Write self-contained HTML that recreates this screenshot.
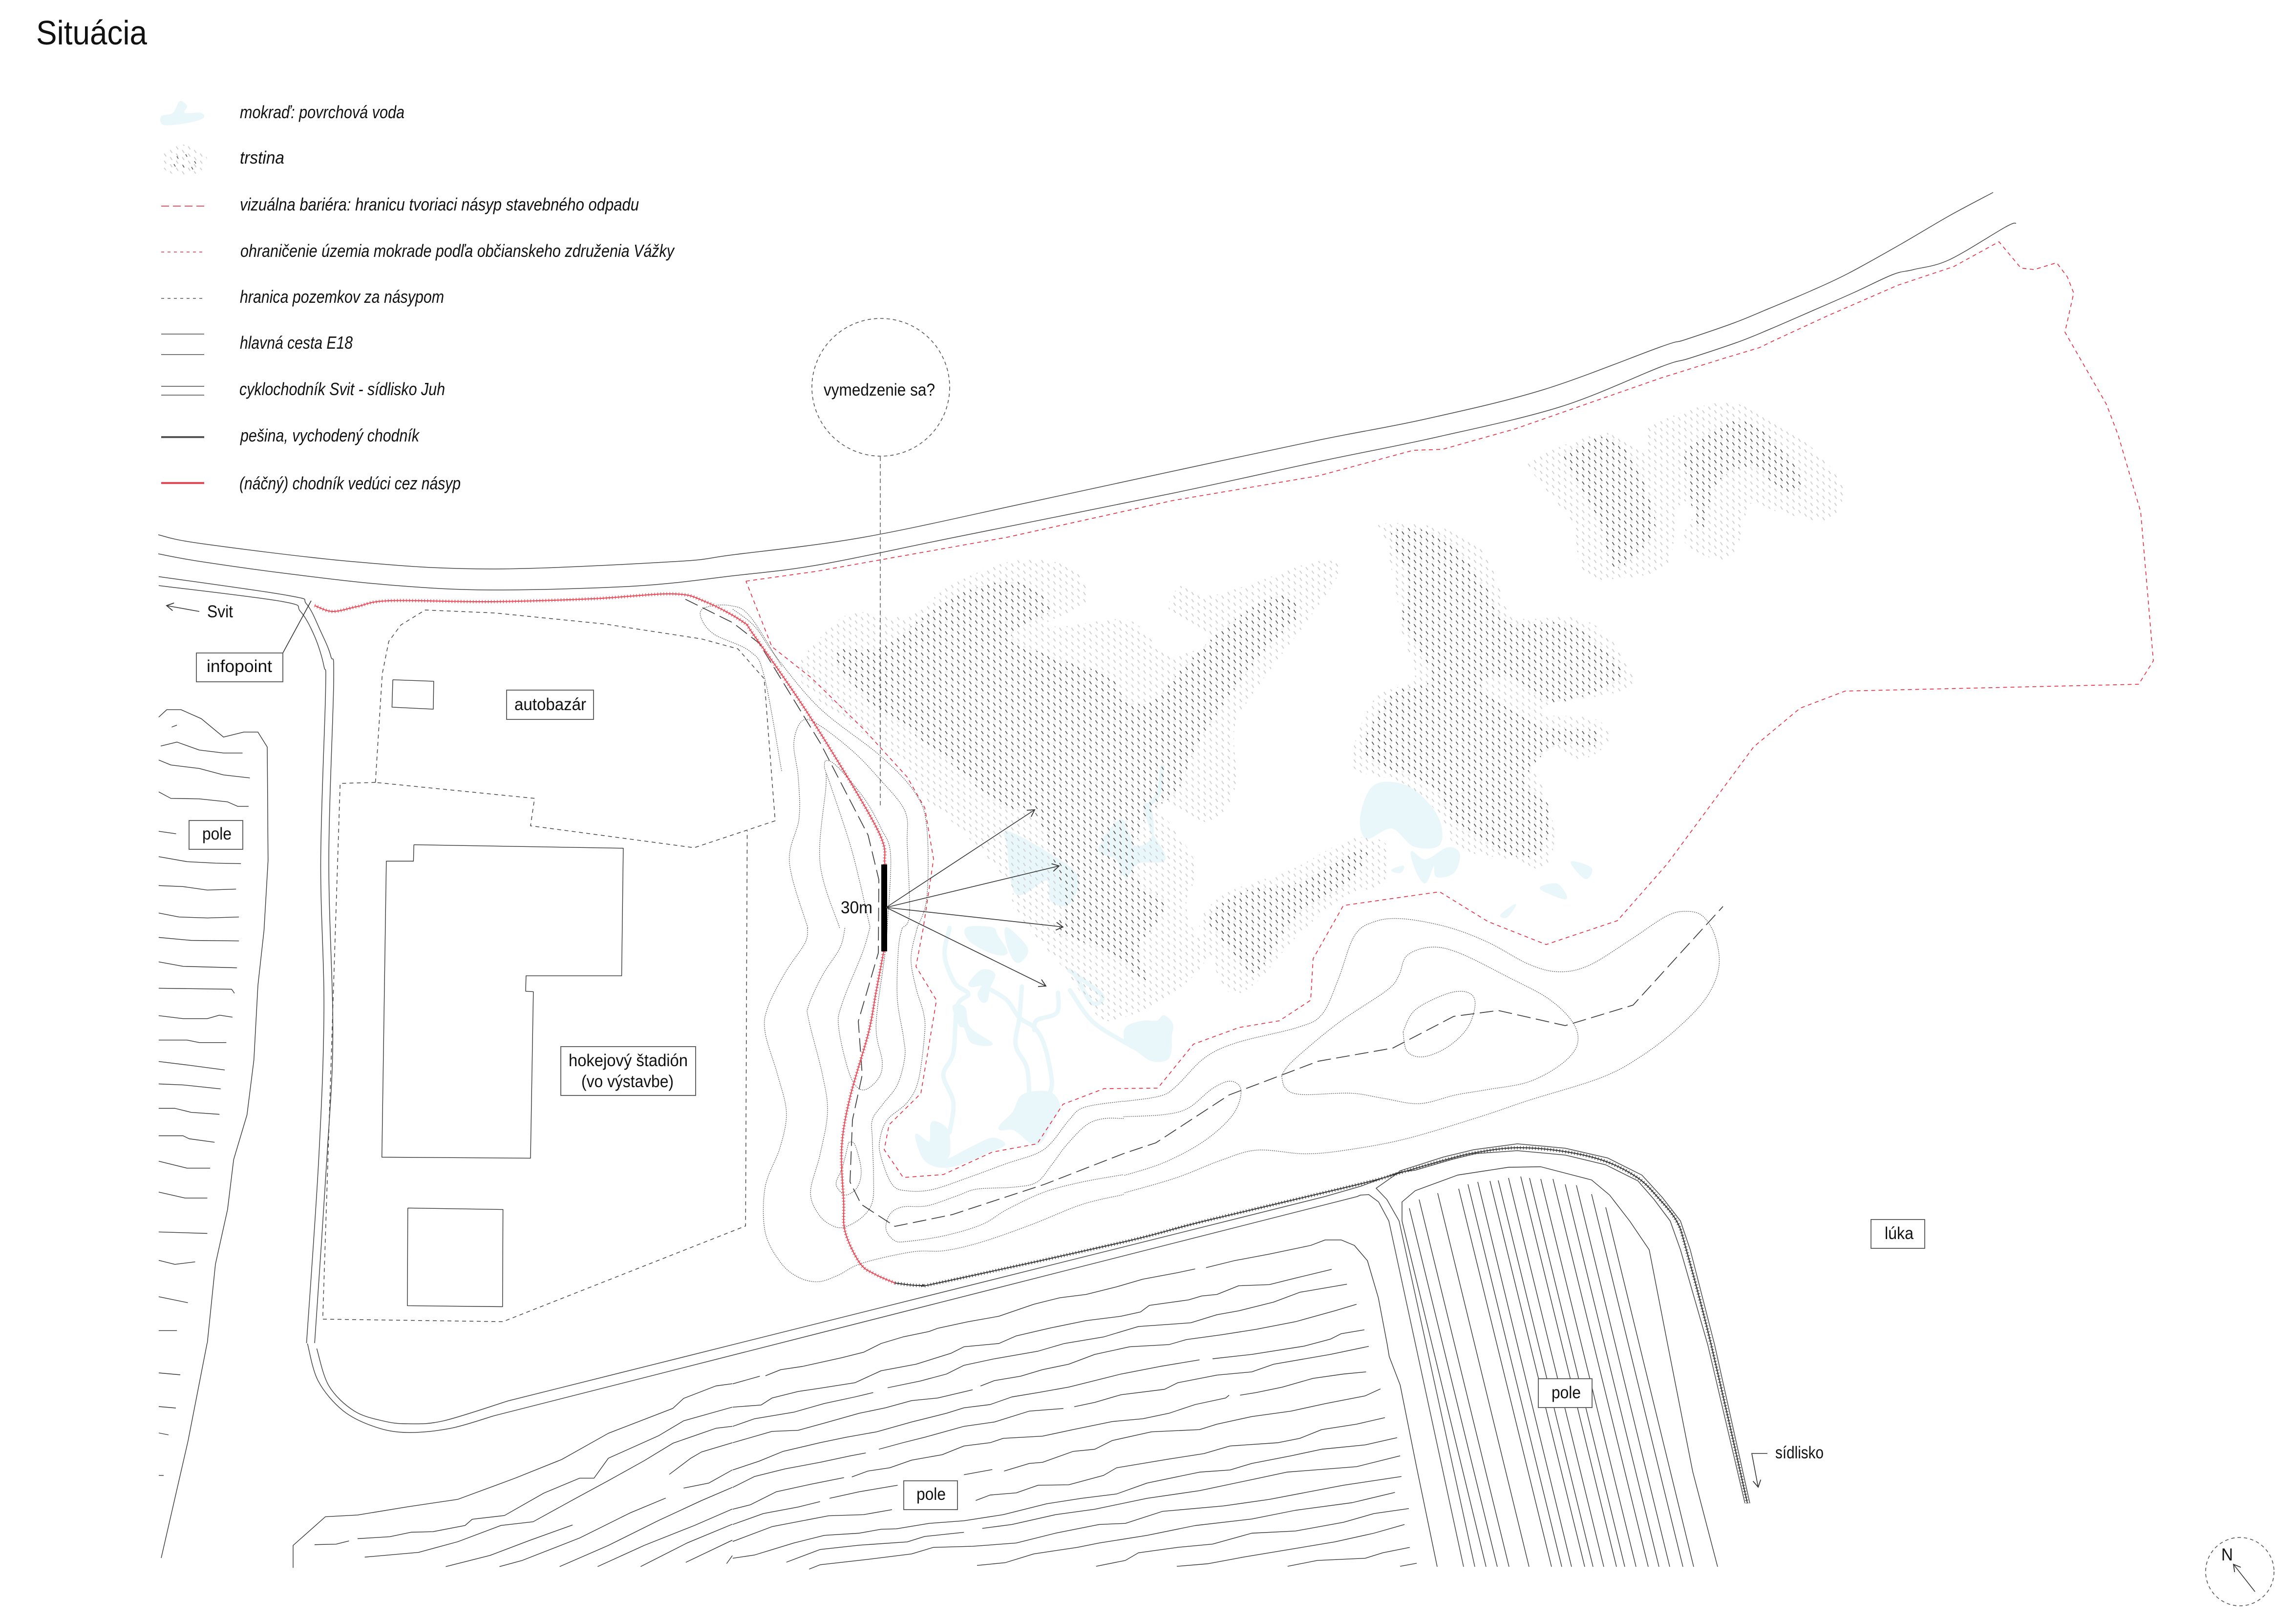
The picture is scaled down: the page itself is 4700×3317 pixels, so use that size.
<!DOCTYPE html>
<html><head><meta charset="utf-8"><title>Situácia</title>
<style>
html,body{margin:0;padding:0;background:#fff}
svg{display:block}
text{font-family:"Liberation Sans",sans-serif;fill:#111}
.l{font-style:italic;font-size:36px}
.b{font-size:35px}
.f *{fill:none;stroke:#333;stroke-width:1.4;stroke-linejoin:round;vector-effect:non-scaling-stroke}
.rd *{fill:none;stroke:#444;stroke-width:1.5;stroke-linejoin:round;vector-effect:non-scaling-stroke}
.c *{fill:none;stroke:#555;stroke-width:1.3;stroke-dasharray:2 2;stroke-linejoin:round;vector-effect:non-scaling-stroke}
.p *{fill:none;stroke:#444;stroke-width:1.5;stroke-dasharray:8 7;vector-effect:non-scaling-stroke}
.w *{fill:#e9f7fb;stroke:#e9f7fb;stroke-width:3;stroke-linejoin:round;stroke-linecap:round;vector-effect:non-scaling-stroke}
.w .ch{fill:none;stroke-width:9}
.box{fill:#fff;stroke:#555;stroke-width:1.8}
</style></head><body>
<svg xmlns="http://www.w3.org/2000/svg" width="4700" height="3317" viewBox="0 0 4700 3317">
<defs>
<pattern id="rl" width="24.6" height="14.6" patternUnits="userSpaceOnUse"><path d="M4,.5l4,6M16.3,7.8l4,6" stroke="#cbcbcb" stroke-width="1.8" fill="none"/></pattern>
<pattern id="rk" width="24.6" height="14.6" patternUnits="userSpaceOnUse"><circle cx="18" cy="3" r="3" fill="#f3f3f3"/><circle cx="6" cy="10.5" r="3" fill="#f3f3f3"/><path d="M4,.5l4,6M16.3,7.8l4,6" stroke="#3a3a3a" stroke-width="1.4" fill="none"/></pattern>
<marker id="ar" markerUnits="userSpaceOnUse" markerWidth="40" markerHeight="30" refX="20" refY="15" orient="auto" overflow="visible"><path d="M6,7L20,15L6,23" fill="none" stroke="#333" stroke-width="1.8"/></marker>
<clipPath id="cl" class="sm">
<polygon transform="translate(1500,1100) scale(.8929,.7015)" points="150,400 210,280 280,220 400,230 500,140 640,70 760,80 815,150 800,200 720,250 760,260 900,240 960,300 1000,345 1060,330 1110,300 1060,260 1000,210 1030,140 1090,170 1180,140 1340,70 1390,100 1320,240 1260,340 1180,480 1150,560 1150,740 1090,830 1000,780 960,760 1060,950 1040,1060 1050,1130 1085,1230 1000,1340 900,1400 840,1400 760,1260 650,1100 640,1020 600,960 520,850 440,760 380,640 250,530"/>
<polygon transform="translate(1500,1100) scale(.8929,.7015)" points="1070,1130 1130,1040 1280,970 1420,880 1500,900 1490,1010 1400,1050 1290,1170 1200,1300 1140,1330 1100,1240"/>
<polygon transform="translate(2700,700) scale(1.148,.8291)" points="110,450 220,460 290,510 320,600 350,680 450,680 510,720 560,830 520,870 420,890 400,920 490,930 520,980 470,1030 400,1000 380,1050 400,1100 420,1220 400,1300 350,1280 250,1250 210,1160 150,1090 70,1060 60,1010 100,880 170,830 150,730 140,640 120,500"/>
<polygon transform="translate(2700,700) scale(1.148,.8291)" points="380,290 510,225 580,270 590,210 720,150 820,200 900,290 935,370 905,440 820,420 770,400 750,490 720,540 650,490 680,400 640,410 620,550 530,585 470,570 450,450 380,320"/>
</clipPath>
<clipPath id="cd" class="sm">
<polygon transform="translate(1500,1100) scale(.8929,.7015)" points="230,340 340,320 440,230 530,160 650,130 730,210 640,290 780,370 860,400 900,470 960,480 1040,370 1140,250 1250,170 1300,220 1220,330 1130,480 1060,620 1020,740 960,800 930,870 930,1000 990,1060 970,1130 930,1200 950,1300 880,1230 800,1180 740,1150 760,1080 740,960 690,800 620,790 500,660 400,560 310,480"/>
<polygon transform="translate(1500,1100) scale(.8929,.7015)" points="1090,1110 1180,1030 1290,1010 1420,920 1455,930 1400,1020 1290,1110 1200,1270 1140,1200"/>
<polygon transform="translate(2700,700) scale(1.148,.8291)" points="130,470 220,480 290,590 340,690 450,700 540,810 500,860 410,890 340,830 290,840 310,880 400,950 490,960 490,1000 420,1000 370,1080 410,1150 400,1250 350,1270 250,1200 200,1100 100,1040 80,990 130,870 200,830 150,690 160,590"/>
<polygon transform="translate(2700,700) scale(1.148,.8291)" points="445,270 520,235 570,320 600,450 570,520 525,555 500,450 445,310"/>
<polygon transform="translate(2700,700) scale(1.148,.8291)" points="660,260 750,195 830,270 860,350 830,370 770,310 710,350 680,470 655,330"/>
</clipPath>
<clipPath id="cs"><ellipse cx="376" cy="328" rx="48" ry="32"/></clipPath>
</defs>
<rect width="4700" height="3317" fill="#fff"/>

<!-- water -->
<g class="w sm" transform="translate(1800,1900) scale(.574,.3189)">
<polygon points="880,640 940,600 990,600 1015,565 1045,620 1040,700 1040,780 1025,845 970,850 920,790 880,740"/>
<polyline class="ch" points="680,400 760,600 880,740"/>
</g>
<g class="w sm" transform="translate(1500,1900) scale(.5102,.5102)">
<polygon points="1165,670 1270,660 1310,715 1280,780 1220,870 1130,810 1075,810 1075,790 1125,740"/>
<polygon points="735,830 790,860 800,780 860,810 870,900 860,930 950,885 1040,845 1090,870 1020,900 960,930 850,960 770,930"/>
<polygon points="885,315 930,320 950,400 1040,465 960,460 930,400 910,390"/>
<polygon points="1000,170 1050,185 1030,240 1020,290 1000,295 985,265 1000,230 960,235 950,220"/>
<polygon points="940,0 950,50 1040,100 1100,100 1060,30 1040,0"/>
<polygon points="1100,0 1180,80 1160,130 1130,130 1100,60"/>
<polyline class="ch" points="870,0 850,110 890,220 945,265 900,315 885,500 845,590 885,700 870,820"/>
<polyline class="ch" points="1030,245 1100,290 1150,360 1210,400 1250,470 1280,610 1270,670"/>
<polyline class="ch" points="1160,235 1150,360 1135,470 1180,560 1190,670"/>
<polyline class="ch" points="1305,260 1300,340 1220,370 1210,410"/>
<polyline class="ch" points="1350,170 1480,270 1440,300 1370,180"/>
</g>
<g class="w sm" transform="translate(1500,1100) scale(.8929,.7015)">
<polygon points="890,825 920,900 960,880 960,800 945,790 960,860 990,940 930,950 900,990 880,940 840,910"/>
<polygon points="630,860 720,920 790,990 770,1070 730,1060 720,1000 650,1040 630,900"/>
<polyline class="ch" points="985,670 975,750 945,790"/>
</g>
<g class="w sm" transform="translate(2700,700) scale(1.148,.8291)">
<polygon points="100,1095 160,1100 210,1170 215,1240 170,1245 130,1200 85,1225 75,1170"/>
<polygon points="165,1260 190,1280 230,1250 250,1265 240,1310 210,1320 205,1290 190,1335 175,1310"/>
<polygon points="130,1305 150,1295 145,1310"/>
<polygon points="450,1285 485,1300 475,1325"/>
<polygon points="395,1350 425,1340 440,1375"/>
<polygon points="325,1415 350,1390 335,1420"/>
</g>

<!-- reeds -->
<rect x="1500" y="700" width="2400" height="1400" fill="url(#rl)" clip-path="url(#cl)"/>
<rect x="1500" y="700" width="2400" height="1400" fill="url(#rk)" clip-path="url(#cd)"/>

<!-- red boundary -->
<polyline fill="none" stroke="#e8283c" stroke-width="1.6" stroke-dasharray="8 7" points="1527,1190 1670,1170 1804,1146 2062,1100 2400,1025 2700,974 2893,922 2953,920 3102,878 3400,774 3528,734 3601,712 3630,698 3738,648 3885,584 3999,546 4092,495 4137,549 4164,552 4210,538 4232,567 4245,600 4227,680 4312,828 4336,891 4382,1048 4408,1353 4378,1401 3777,1415 3685,1450 3590,1529 3412,1770 3311,1885 3165,1934 3046,1887 2947,1826 2750,1854 2688,1963 2683,2048 2619,2090 2536,2104 2443,2138 2370,2228 2260,2229 2176,2261 2123,2342 2031,2359 1931,2405 1849,2411 1810,2354 1820,2303 1885,2239 1917,2048 1875,1979 1890,1900 1911,1759 1893,1654 1857,1591 1768,1493 1661,1388 1580,1324 1527,1190"/>

<!-- contours -->
<g class="c sm" transform="translate(1500,1100) scale(.8929,.7015)">
<polyline points="0,210 50,260 100,350 200,500 340,640 420,750 445,850 445,1050 423,1140"/>
<polyline points="340,710 395,800 400,900 405,1100 389,1140"/>
<polyline points="340,710 280,630 200,550 160,535 140,600 150,700 152,820 130,950 172,1140"/>
<polyline points="354,1140 362,930 340,850 300,760 240,670 215,652 210,670 214,720 200,950 245,1140"/>
<polyline points="215,690 265,880 290,1000 315,1140"/>
</g>
<g class="c sm" transform="translate(300,1150) scale(.8291,1.0204)">
<polyline points="1568,210 1490,110 1440,88 1380,92 1368,110 1400,145 1490,180 1525,230 1568,420"/>
</g>
<g class="c sm" transform="translate(1500,1900) scale(.5102,.5102)">
<polyline points="300,0 290,60 210,180 140,320 130,420 180,590 215,740 190,880 130,1040 130,1220 190,1340 260,1400 340,1420 420,1395 520,1345 720,1300 850,1295 1000,1260 1200,1190 1400,1110 1568,1070"/>
<polyline points="450,0 430,80 360,190 305,310 305,370 360,590 380,740 350,910 312,1060 345,1150 400,1195 450,1200 520,1160 560,1100 565,1000 560,850 560,770 600,710 660,630 690,520 685,440 660,280 665,80 680,0"/>
<polyline points="550,0 520,100 440,300 425,400 470,590 520,650 580,610 600,540 575,390 610,110 620,0"/>
<polyline points="740,0 715,120 735,240 765,340 770,420 745,610 700,700 620,770 590,850 595,920 640,1030 700,1055 800,1050 950,1000 1100,945 1220,905 1280,860 1350,770 1410,720 1568,695"/>
<polyline points="465,860 490,870 515,970 500,1040 455,1072 425,1050 415,1020 440,960 465,860"/>
<polyline points="1568,765 1490,765 1420,790 1340,870 1280,950 1220,1020 1130,1040 980,1048 900,1075 780,1115 680,1120 630,1150 615,1210 650,1255 700,1258 850,1235 1000,1190 1100,1130 1250,1060 1400,1020 1568,990"/>
</g>
<g class="c sm" transform="translate(2300,1800) scale(.8291,.4464)">
<polyline points="0,1020 90,995 130,950 200,820 280,750 430,680 490,620 530,460 570,260 620,195 690,182 800,220 900,290 1000,390 1075,425 1150,395 1250,280 1340,170 1390,148 1430,170 1460,260 1470,400 1440,540 1370,680 1280,810 1180,910 1000,1015 880,1090 700,1190 560,1240 450,1260 330,1243 240,1290 130,1370 0,1440"/>
<polyline points="0,1090 100,1080 160,1050 220,960 265,927 290,970 270,1080 200,1200 100,1300 0,1360"/>
<polyline points="390,900 420,830 530,660 650,510 680,440 700,350 760,312 830,340 950,450 1050,550 1110,660 1120,760 1080,850 1000,930 900,965 820,990 730,1030 640,1005 560,982 440,988 400,960 390,900"/>
<polyline points="690,700 720,600 800,525 850,520 868,570 850,680 800,770 740,815 700,790 690,700"/>
</g>

<!-- barrier long dash -->
<polyline fill="none" stroke="#3a3a3a" stroke-width="1.7" stroke-dasharray="28 11" points="1403,1227 1500,1275 1554,1317 1679,1521 1777,1710 1799,1801 1798,1951 1757,2091 1765,2201 1745,2293 1740,2420 1763,2466 1832,2511 1949,2487 2138,2425 2300,2362 2366,2340 2516,2242 2698,2173 2851,2146 2976,2081 3067,2069 3204,2100 3343,2058 3527,1856"/>

<!-- main road -->
<g class="rd sm">
<polyline points="324,1095 412,1113 723,1150 1005,1165 1378,1150 1500,1136 1768,1100 2100,1030 2400,965 2700,901 2918,858 3159,798 3400,710 3448,696 3550,661 3623,631 3706,596 3783,560 3891,500 3990,442 4080,394"/>
<polyline points="324,1134 412,1150 600,1176 800,1198 1005,1208 1300,1200 1500,1179 1679,1156 1955,1100 2400,1010 2700,945 2941,895 3194,833 3400,751 3457,734 3556,701 3623,674 3713,635 3795,599 3875,562 3917,552 3990,532 4105,465 4127,457"/>
</g>
<!-- cycle path -->
<g class="rd sm" transform="translate(300,1150) scale(.8291,1.0204)">
<polyline points="30,30 350,68 395,85 430,140 455,190 462,240 450,600 460,950 445,1200 415,1568"/>
<polyline points="30,48 335,80 380,100 415,150 438,210 442,260 430,600 438,900 425,1200 395,1568"/>
</g>
<g class="rd sm" transform="translate(600,2450) scale(1.4668,.5102)">
<polyline points="20,590 35,740 70,860 115,925 160,947 220,930 280,880"/>
<polyline points="33,610 50,760 85,860 125,900 160,912 210,900 300,820"/>
</g>
<g class="rd" transform="translate(600,2450) scale(1.4668,.5102)">
<polyline points="280,880 1485,0"/>
<polyline points="300,820 1440,0"/>
</g>
<g class="rd">
<polyline points="2712,2450 2785,2429 2864,2400 2817,2433 2839,2456 2864,2500 3019,3208"/>
<polyline points="2778,2450 2785,2447 2802,2446 2822,2461 2843,2500 2996,3208"/>
<polyline points="2864,2400 2897,2396 2972,2374 3021,2362 3106,2356 3204,2365 3287,2385 3353,2418 3386,2456 3419,2500 3440,2559 3496,2754 3572,3078"/>
<polyline points="2864,2398 2955,2369 3017,2354 3106,2342 3204,2351 3291,2371 3361,2406 3403,2452 3440,2500 3460,2559 3510,2754 3582,3078"/>
</g>

<!-- bottom field left part -->
<g class="f" transform="translate(600,2450) scale(1.4668,.5102)">
<polyline points="0,1490 0,1400 45,1285 90,1278 160,1245 230,1215 310,1130 375,1055 440,950 530,850 545,810 590,760 613,751"/>
<polyline points="30,1397 60,1395 78,1382"/>
<polyline points="90,1373 135,1365 165,1347 195,1345 240,1320 250,1295 295,1280 350,1190 400,1130 420,1130 440,1050 510,960 545,900 613,845"/>
<polyline points="100,1447 175,1428 230,1385 290,1320 335,1305 395,1210 440,1140 490,1060 530,990 560,960 590,930 613,922"/>
<polyline points="213,1485 275,1440 330,1380 390,1318"/>
<polyline points="288,1485 320,1460 400,1370 470,1270 520,1210"/>
<polyline points="525,1115 555,1050 570,1025 613,988"/>
<polyline points="545,1170 580,1150 613,1097"/>
<polyline points="372,1485 440,1400 510,1300 570,1220 613,1167"/>
<polyline points="425,1485 490,1400 560,1320 613,1254"/>
<polyline points="485,1485 550,1390 613,1315"/>
<polyline points="548,1468 613,1379"/>
<polyline points="605,1473 613,1441"/>
</g>
<!-- bottom field right part -->
<g class="f" transform="translate(1500,2550) scale(.8929,.4464)">
<polyline points="0,635 62,600"/>
<polyline points="75,598 110,570 160,555 250,515 300,490 340,450 390,420 450,395 470,380 540,350 610,325 690,270 750,240 810,225 880,190 940,155 1020,125 1060,108"/>
<polyline points="1085,102 1150,70 1230,40 1325,0 1358,-25 1395,-25 1425,0 1455,70 1480,240 1500,450 1505,510 1530,640 1568,1020"/>
<polyline points="0,742 65,732 90,700 150,670 200,655 280,630 340,575 420,545 500,495 530,465 610,450 650,415 730,378 810,345 890,325 935,305 955,275 1045,250 1075,232 1110,225 1160,185 1230,180 1290,150 1373,110"/>
<polyline points="0,830 50,795 140,765 210,725 280,695 322,675"/>
<polyline points="355,653 430,622 490,590 530,550 600,520 700,485 760,450 850,420 930,372 1050,355 1110,318 1160,300 1240,260 1300,215 1408,178"/>
<polyline points="0,905 90,853 150,848 210,815 290,770 350,745 410,712 470,700 550,662"/>
<polyline points="568,645 600,620 660,600 710,570 770,545 830,500 910,465 1000,455 1040,432 1120,410 1200,385 1290,350 1380,300 1430,270"/>
<polyline points="0,1030 60,990 115,945 200,905 260,880 330,855 410,810 490,770 530,745 590,730 640,695 700,675 770,650 830,620 890,590 980,555 1070,525"/>
<polyline points="1100,520 1190,500 1310,462 1370,430 1395,405 1448,387"/>
<polyline points="0,1110 50,1060 120,1025 200,995 270,965 305,952"/>
<polyline points="335,935 390,905 440,880 530,830 600,810 680,760 758,748"/>
<polyline points="783,740 830,720 890,685 990,660 1020,630 1110,595 1190,580 1240,545 1370,500 1458,463"/>
<polyline points="0,1210 40,1190 100,1130 180,1095 255,1065"/>
<polyline points="273,1062 310,1035 360,1020 410,985 480,960 530,920 590,905 620,885 710,875 780,845 870,808 940,795 1000,770 1060,730 1130,700 1138,687"/>
<polyline points="1163,687 1200,675 1260,650 1330,610 1400,590 1452,580"/>
<polyline points="0,1280 70,1230 150,1200 200,1175"/>
<polyline points="222,1160 290,1130 378,1100"/>
<polyline points="530,1052 595,1028"/>
<polyline points="622,1035 680,1000 710,995 780,945 830,935 870,895 960,855 1070,845 1110,820 1190,785 1280,760 1360,725 1450,690 1485,658"/>
<polyline points="0,1358 90,1290 220,1240 300,1235 365,1212"/>
<polyline points="557,1170 590,1145 650,1135 700,1100 770,1098 850,1055 880,1020 1000,980 1080,955 1140,920 1250,905 1300,885 1350,845 1430,820 1495,790"/>
<polyline points="0,1435 50,1420 140,1365 210,1330 290,1320 340,1302 375,1300 450,1275 530,1263 620,1235 720,1185 800,1160 880,1140 950,1090 1070,1040 1140,1030 1190,1000 1280,965 1350,935 1450,915 1523,882"/>
<polyline points="123,1453 200,1395 290,1375 400,1360 440,1335 530,1316"/>
<polyline points="572,1298 640,1280 740,1235 830,1210 950,1160 1070,1125 1200,1070 1270,1040 1430,1015 1530,965"/>
<polyline points="175,1485 200,1465 310,1440 410,1415 460,1385 550,1380 650,1365 740,1320 840,1280 900,1275 985,1220 1125,1195 1230,1165 1400,1100 1533,1060"/>
<polyline points="560,1468 625,1455 690,1415 790,1385 840,1365 950,1330 1060,1285 1190,1255 1290,1215 1420,1180 1518,1133"/>
<polyline points="833,1472 900,1445 930,1410 1020,1385 1100,1370 1190,1320 1290,1310 1400,1270 1470,1230 1550,1207"/>
<polyline points="1018,1472 1090,1460 1170,1430 1260,1400 1380,1360 1470,1320 1540,1280"/>
<polyline points="1272,1472 1340,1445 1450,1435 1490,1410 1552,1385"/>
<polyline points="1530,1472 1568,1458"/>
</g>
<g class="f">
<polyline points="2900,3005 2942,3208"/>
<!-- right field -->
<polyline points="3042,3208 2870,2500 2870,2461 2897,2438 2984,2406 3088,2390 3154,2389 3258,2416 3295,2447 3336,2500 3376,2559 3414,2754 3465,3013 3516,3208"/>
<path d="M2885,2474L3065,3208M2905,2456L3089,3208M2943,2443L3130,3208M2986,2434L3176,3208M3005,2425L3197,3208M3025,2420L3217,3208M3050,2418L3244,3208M3067,2417L3261,3208M3088,2412L3283,3208M3113,2409L3309,3208M3131,2412L3326,3208M3154,2414L3349,3208M3179,2414L3374,3208M3204,2425L3396,3208M3227,2427L3418,3208M3258,2445L3445,3208M3287,2472L3467,3208"/>
</g>
<!-- left field -->
<g class="f" transform="translate(300,1150) scale(.8291,1.0204)">
<polyline points="30,312 50,297 85,297 135,315 190,352 240,342 275,342 298,372 300,600 290,740 275,850 265,1000 248,1110 215,1200 200,1300 170,1410 150,1568"/>
<polyline points="62,332 75,328"/>
<polyline points="35,370 75,362 130,378 190,384 237,384"/>
<polyline points="30,398 60,408 130,415 190,428 255,434"/>
<polyline points="30,462 60,475 130,476 200,482 225,491 252,491"/>
<polyline points="30,541 73,546"/>
<polyline points="30,592 100,602 170,605 233,606"/>
<polyline points="30,650 90,652 150,659 221,657"/>
<polyline points="30,705 80,713 150,715 228,713"/>
<polyline points="30,754 110,760 228,761"/>
<polyline points="30,803 90,812 223,815"/>
<polyline points="30,856 210,858 217,866"/>
<polyline points="30,911 90,917 150,917 180,910 212,914"/>
<polyline points="30,960 100,960 130,965 197,965"/>
<polyline points="30,1003 100,1010 193,1020"/>
<polyline points="30,1048 90,1050 183,1058"/>
<polyline points="30,1097 70,1097 110,1105 180,1109"/>
<polyline points="30,1152 90,1152 105,1158 168,1165"/>
<polyline points="30,1203 100,1217 157,1217"/>
<polyline points="30,1265 95,1277 150,1277"/>
<polyline points="30,1345 150,1348"/>
<polyline points="30,1402 70,1410 120,1405"/>
<polyline points="30,1475 102,1487"/>
<polyline points="30,1543 75,1543"/>
</g>
<g class="f">
<polyline points="424,2750 385,2950 330,3190"/>
<polyline points="325,2811 369,2815"/>
<polyline points="325,2880 360,2883"/>
<polyline points="325,2934 345,2938"/>
<polyline points="325,3021 335,3021"/>
</g>

<!-- parcels -->
<g class="p" transform="translate(300,1150) scale(.8291,1.0204)">
<polygon points="565,443 582,225 598,160 628,127 688,97 860,103 1130,125 1370,155 1460,175 1525,235 1552,520 1352,574 948,530 958,475"/>
<polyline points="565,443 478,445 435,1520 880,1525 1479,1333 1483,540"/>
</g>

<!-- buildings -->
<g class="f" transform="translate(300,1150) scale(.8291,1.0204)">
<polyline points="660,568 1177,575 1173,831 937,831 936,862 955,863 948,1197 581,1195 592,601 659,601 660,568"/>
<polyline points="608,237 709,240 708,296 606,292 608,237"/>
<polyline points="645,1297 880,1300 879,1495 644,1493 645,1297"/>
</g>

<!-- paths -->
<g fill="none" stroke-linejoin="round">
<g class="sm">
<polyline stroke="#ec4452" stroke-width="2" points="644,1240 681,1252 731,1242 797,1230 1005,1232 1212,1226 1378,1216 1444,1232 1519,1272 1545,1303 1661,1472 1795,1696 1811,1766 1810,1775"/>
<polyline stroke="#ec4452" stroke-width="7" stroke-dasharray="1.2 5" points="644,1240 681,1252 731,1242 797,1230 1005,1232 1212,1226 1378,1216 1444,1232 1519,1272 1545,1303 1661,1472 1795,1696 1811,1766 1810,1775"/>
<polyline stroke="#ec4452" stroke-width="2" points="1809,1948 1793,2033 1778,2114 1740,2247 1723,2349 1727,2461 1730,2522 1760,2586 1791,2609 1832,2627"/>
<polyline stroke="#ec4452" stroke-width="7" stroke-dasharray="1.2 5" points="1809,1948 1793,2033 1778,2114 1740,2247 1723,2349 1727,2461 1730,2522 1760,2586 1791,2609 1832,2627"/>
<polyline stroke="#333" stroke-width="2" points="1832,2627 1883,2632 1934,2624 2300,2543 2466,2500 2781,2425 2864,2402 2955,2376 3021,2360 3106,2350 3204,2358 3287,2378 3353,2412 3394,2452 3432,2500 3452,2559 3503,2754 3577,3078"/>
<polyline stroke="#333" stroke-width="7" stroke-dasharray="1.2 5" points="1832,2627 1883,2632 1934,2624 2300,2543 2466,2500 2781,2425 2864,2402 2955,2376 3021,2360 3106,2350 3204,2358 3287,2378 3353,2412 3394,2452 3432,2500 3452,2559 3503,2754 3577,3078"/>
</g>
</g>
<rect x="1804" y="1770" width="12" height="178" fill="#000"/>

<!-- view arrows -->
<g stroke="#333" stroke-width="1.6" fill="none">
<line x1="1814" y1="1858" x2="2118" y2="1658" marker-end="url(#ar)"/>
<line x1="1814" y1="1858" x2="2168" y2="1773" marker-end="url(#ar)"/>
<line x1="1814" y1="1858" x2="2176" y2="1898" marker-end="url(#ar)"/>
<line x1="1814" y1="1858" x2="2141" y2="2019" marker-end="url(#ar)"/>
</g>

<!-- callout -->
<circle cx="1803" cy="793" r="141" fill="#fff" stroke="#555" stroke-width="1.6" stroke-dasharray="7 6"/>
<line x1="1802" y1="935" x2="1802" y2="1654" stroke="#666" stroke-width="1.6" stroke-dasharray="9 6"/>
<text class="b" x="1686" y="810" textLength="228" lengthAdjust="spacingAndGlyphs">vymedzenie sa?</text>

<!-- other leaders -->
<line x1="579" y1="1337" x2="637" y2="1230" stroke="#333" stroke-width="1.6"/>
<line x1="408" y1="1252" x2="341" y2="1240" stroke="#333" stroke-width="1.6" marker-end="url(#ar)"/>
<polyline points="3618,2976 3586,2976 3599,3045" fill="none" stroke="#333" stroke-width="1.6" marker-end="url(#ar)"/>

<!-- labels -->
<rect class="box" x="402" y="1337" width="177" height="59"/><text class="b" x="423" y="1376" textLength="134" lengthAdjust="spacingAndGlyphs">infopoint</text>
<text class="b" x="424" y="1264" textLength="53" lengthAdjust="spacingAndGlyphs">Svit</text>
<rect class="box" x="1037" y="1413" width="178" height="60"/><text class="b" x="1053" y="1454" textLength="147" lengthAdjust="spacingAndGlyphs">autobazár</text>
<rect class="box" x="387" y="1680" width="110" height="59"/><text class="b" x="414" y="1719" textLength="60" lengthAdjust="spacingAndGlyphs">pole</text>
<rect class="box" x="1148" y="2143" width="276" height="100"/><text class="b" x="1164" y="2183" textLength="244" lengthAdjust="spacingAndGlyphs">hokejový štadión</text><text class="b" x="1190" y="2226" textLength="189" lengthAdjust="spacingAndGlyphs">(vo výstavbe)</text>
<text class="b" x="1721" y="1870" textLength="65" lengthAdjust="spacingAndGlyphs">30m</text>
<rect class="box" x="1850" y="3032" width="110" height="59"/><text class="b" x="1876" y="3071" textLength="60" lengthAdjust="spacingAndGlyphs">pole</text>
<rect class="box" x="3149" y="2823" width="110" height="59"/><text class="b" x="3176" y="2863" textLength="60" lengthAdjust="spacingAndGlyphs">pole</text>
<rect class="box" x="3830" y="2497" width="110" height="59"/><text class="b" x="3858" y="2537" textLength="59" lengthAdjust="spacingAndGlyphs">lúka</text>
<text class="b" x="3634" y="2986" textLength="99" lengthAdjust="spacingAndGlyphs">sídlisko</text>

<!-- north -->
<circle cx="4585" cy="3218" r="70" fill="none" stroke="#555" stroke-width="1.6" stroke-dasharray="7 6"/>
<text class="b" x="4547" y="3195" textLength="24" lengthAdjust="spacingAndGlyphs">N</text>
<line x1="4616" y1="3259" x2="4572" y2="3203" stroke="#333" stroke-width="1.6" marker-end="url(#ar)"/>

<!-- title -->
<text x="74" y="91" font-size="70" textLength="227" lengthAdjust="spacingAndGlyphs">Situácia</text>

<!-- legend -->
<polygon class="sm" points="330,238 354,231 368,207 383,217 378,231 411,231 416,242 383,252 335,256" fill="#e9f7fb"/>
<rect x="325" y="296" width="104" height="62" fill="url(#rl)" clip-path="url(#cs)"/>
<path d="M362,320l3,5M380,316l3,5M398,330l3,5M374,338l3,5M392,342l3,5M356,336l3,5" stroke="#444" stroke-width="1.4" fill="none"/>
<line x1="330" y1="422" x2="418" y2="422" stroke="#ee5566" stroke-width="2" stroke-dasharray="16 8"/>
<line x1="330" y1="516" x2="418" y2="516" stroke="#ee3344" stroke-width="1.6" stroke-dasharray="6 7"/>
<line x1="330" y1="611" x2="418" y2="611" stroke="#555" stroke-width="1.6" stroke-dasharray="6 7"/>
<line x1="330" y1="684" x2="418" y2="684" stroke="#777" stroke-width="2"/>
<line x1="330" y1="726" x2="418" y2="726" stroke="#777" stroke-width="2"/>
<line x1="330" y1="791" x2="418" y2="791" stroke="#777" stroke-width="2"/>
<line x1="330" y1="809" x2="418" y2="809" stroke="#777" stroke-width="2"/>
<line x1="330" y1="895" x2="418" y2="895" stroke="#555" stroke-width="4"/>
<line x1="330" y1="989" x2="418" y2="989" stroke="#ee4455" stroke-width="4"/>
<text class="l" x="491" y="242" textLength="337" lengthAdjust="spacingAndGlyphs">mokraď: povrchová voda</text>
<text class="l" x="491" y="335" textLength="91" lengthAdjust="spacingAndGlyphs">trstina</text>
<text class="l" x="491" y="431" textLength="817" lengthAdjust="spacingAndGlyphs">vizuálna bariéra: hranicu tvoriaci násyp stavebného odpadu</text>
<text class="l" x="492" y="526" textLength="888" lengthAdjust="spacingAndGlyphs">ohraničenie územia mokrade podľa občianskeho združenia Vážky</text>
<text class="l" x="491" y="620" textLength="418" lengthAdjust="spacingAndGlyphs">hranica pozemkov za násypom</text>
<text class="l" x="491" y="714" textLength="231" lengthAdjust="spacingAndGlyphs">hlavná cesta E18</text>
<text class="l" x="490" y="809" textLength="421" lengthAdjust="spacingAndGlyphs">cyklochodník Svit - sídlisko Juh</text>
<text class="l" x="492" y="904" textLength="366" lengthAdjust="spacingAndGlyphs">pešina, vychodený chodník</text>
<text class="l" x="490" y="1002" textLength="453" lengthAdjust="spacingAndGlyphs">(náčný) chodník vedúci cez násyp</text>
</svg>
<script>
(function(){
var N='http://www.w3.org/2000/svg';
function sm(e){
 var p=e.getAttribute('points').trim().split(/\s+/).map(function(s){return s.split(',').map(Number)});
 var n=p.length,c=e.tagName=='polygon',d='M'+p[0][0]+','+p[0][1],m=c?n:n-1;
 function g(i){return c?p[(i+n)%n]:p[Math.max(0,Math.min(n-1,i))]}
 for(var i=0;i<m;i++){var a=g(i-1),b=g(i),q=g(i+1),r=g(i+2);
  d+='C'+(b[0]+(q[0]-a[0])/6).toFixed(1)+','+(b[1]+(q[1]-a[1])/6).toFixed(1)+' '+(q[0]-(r[0]-b[0])/6).toFixed(1)+','+(q[1]-(r[1]-b[1])/6).toFixed(1)+' '+q[0]+','+q[1];}
 if(c)d+='Z';
 var t=document.createElementNS(N,'path');
 for(var k=0;k<e.attributes.length;k++){var x=e.attributes[k];if(x.name!='points')t.setAttribute(x.name,x.value);}
 t.setAttribute('d',d);e.parentNode.replaceChild(t,e);
}
document.querySelectorAll('.sm').forEach(function(g){
 if(g.tagName=='polygon'||g.tagName=='polyline'){sm(g);return;}
 Array.prototype.slice.call(g.querySelectorAll('polyline,polygon')).forEach(sm);
});
})();
</script>
</body></html>
